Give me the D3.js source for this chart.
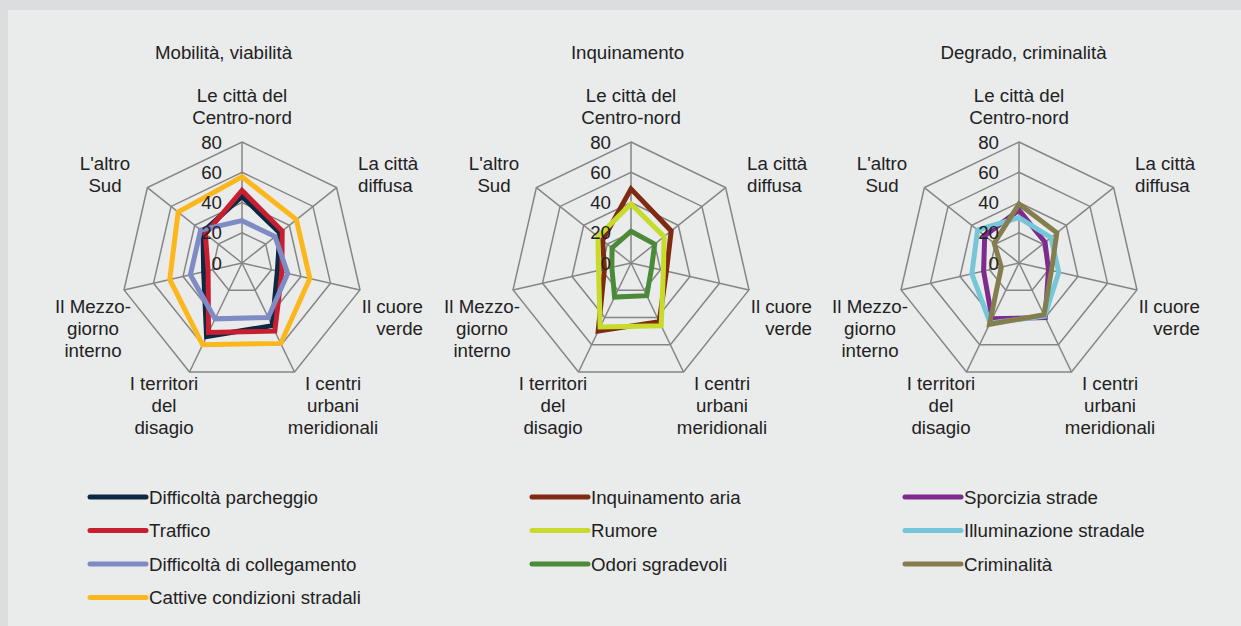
<!DOCTYPE html>
<html>
<head>
<meta charset="utf-8">
<script src="https://cdn.jsdelivr.net/npm/d3@7"></script>
<style>
  html, body { margin: 0; padding: 0; background: #dcdddf; }
  svg { display: block; }
  text { font-family: "Liberation Sans", Arial, sans-serif; fill: #222; }
</style>
</head>
<body>
<svg id="chart" width="1241" height="626"></svg>
<script>
// Territorial groups (radar axes, clockwise from the top)
const areas = [
  ["Le città del", "Centro-nord"],
  ["La città", "diffusa"],
  ["Il cuore", "verde"],
  ["I centri", "urbani", "meridionali"],
  ["I territori", "del", "disagio"],
  ["Il Mezzo-", "giorno", "interno"],
  ["L'altro", "Sud"]
];
const tickValues = [0, 20, 40, 60, 80];
const panelTitles = ["Mobilità, viabilità", "Inquinamento", "Degrado, criminalità"];

// Mobilità, viabilità
const difficoltaParcheggio = [44, 32, 24, 46, 54, 26, 33];
const traffico = [48, 34, 27, 50, 51, 23, 31];
const difficoltaCollegamento = [28, 28, 31, 40, 41, 35, 35];
const cattiveCondizioniStradali = [57, 46, 46, 59, 60, 49, 54];

// Inquinamento
const inquinamentoAria = [49, 34, 24, 43, 50, 18, 24];
const rumore = [39, 28, 22, 46, 47, 22, 28];
const odoriSgradevoli = [21, 20, 14, 24, 25, 13, 16];

// Degrado, criminalità
const sporciziaStrade = [35, 22, 20, 40, 41, 24, 29];
const illuminazioneStradale = [30, 27, 27, 39, 44, 32, 35];
const criminalita = [39, 32, 22, 38, 45, 12, 21];

const panels = [
  { title: panelTitles[0], cx: 242, titleX: 223.5, series: [
    { name: "Difficoltà parcheggio", color: "#0c2842", values: difficoltaParcheggio },
    { name: "Traffico", color: "#c71f30", values: traffico },
    { name: "Difficoltà di collegamento", color: "#7f8bc4", values: difficoltaCollegamento },
    { name: "Cattive condizioni stradali", color: "#fbb71c", values: cattiveCondizioniStradali }
  ]},
  { title: panelTitles[1], cx: 631, titleX: 627.5, series: [
    { name: "Inquinamento aria", color: "#7e2b12", values: inquinamentoAria },
    { name: "Rumore", color: "#c7db2b", values: rumore },
    { name: "Odori sgradevoli", color: "#4b8a38", values: odoriSgradevoli }
  ]},
  { title: panelTitles[2], cx: 1019, titleX: 1023.5, series: [
    { name: "Sporcizia strade", color: "#7e2a8e", values: sporciziaStrade },
    { name: "Illuminazione stradale", color: "#75c6d8", values: illuminazioneStradale },
    { name: "Criminalità", color: "#847d4e", values: criminalita }
  ]}
];

const W = 1241, H = 626;
const cy = 263;
const rMax = 121;
const fontSize = "18.7px";
const legendX = [90, 532, 905];
const legendY0 = 497, legendStep = 33.5;

// Axis label placement relative to each radar centre
const labelLayout = [
  { dx: 0,    dy: -168, anchor: "middle" },
  { dx: 116,  dy: -100, anchor: "start" },
  { dx: 181,  dy: 43,   anchor: "end" },
  { dx: 91,   dy: 120,  anchor: "middle" },
  { dx: -78,  dy: 120,  anchor: "middle" },
  { dx: -149, dy: 43,   anchor: "middle" },
  { dx: -137, dy: -100, anchor: "middle" }
];

const svg = d3.select("#chart");

// Outer frame and inner panel
svg.append("rect").attr("x", 0).attr("y", 0).attr("width", W).attr("height", H).attr("fill", "#dcdddf");
svg.append("rect").attr("x", 8).attr("y", 10).attr("width", W - 8).attr("height", H - 10).attr("fill", "#eaebeb");

const r = d3.scaleLinear().domain([0, 80]).range([0, rMax]);
const angle = d3.scaleLinear().domain([0, areas.length]).range([0, 2 * Math.PI]);

const radial = d3.lineRadial()
  .angle((d, i) => angle(i))
  .radius(d => r(d))
  .curve(d3.curveLinearClosed);

panels.forEach((p, pi) => {
  const g = svg.append("g").attr("transform", `translate(${p.cx},${cy})`);

  // Title
  svg.append("text")
    .attr("x", p.titleX).attr("y", 52)
    .attr("text-anchor", "middle").attr("dominant-baseline", "central")
    .style("font-size", fontSize)
    .text(p.title);

  // Grid rings
  tickValues.filter(t => t > 0).forEach(t => {
    g.append("path")
      .attr("d", radial(areas.map(() => t)))
      .attr("fill", "none").attr("stroke", "#858585").attr("stroke-width", 1.5);
  });

  // Spokes
  areas.forEach((a, i) => {
    const x = r(80) * Math.sin(angle(i)), y = -r(80) * Math.cos(angle(i));
    g.append("line").attr("x1", 0).attr("y1", 0).attr("x2", x).attr("y2", y)
      .attr("stroke", "#858585").attr("stroke-width", 1.5);
  });

  // Series polygons
  p.series.forEach(s => {
    g.append("path")
      .attr("d", radial(s.values))
      .attr("fill", "none").attr("stroke", s.color)
      .attr("stroke-width", 5).attr("stroke-linejoin", "miter");
  });

  // Tick labels
  tickValues.forEach(t => {
    g.append("text")
      .attr("x", -20).attr("y", -r(t))
      .attr("text-anchor", "end").attr("dominant-baseline", "central")
      .style("font-size", fontSize)
      .text(t);
  });

  // Axis category labels
  areas.forEach((lines, i) => {
    const L = labelLayout[i];
    const t = g.append("text")
      .attr("text-anchor", L.anchor)
      .style("font-size", fontSize);
    lines.forEach((line, li) => {
      t.append("tspan")
        .attr("x", L.dx).attr("y", L.dy + li * 22)
        .attr("dominant-baseline", "central")
        .text(line);
    });
  });

  // Legend
  p.series.forEach((s, si) => {
    const ly = legendY0 + si * legendStep;
    svg.append("line")
      .attr("x1", legendX[pi]).attr("x2", legendX[pi] + 56)
      .attr("y1", ly).attr("y2", ly)
      .attr("stroke", s.color).attr("stroke-width", 5).attr("stroke-linecap", "round");
    svg.append("text")
      .attr("x", legendX[pi] + 59).attr("y", ly)
      .attr("dominant-baseline", "central")
      .style("font-size", fontSize)
      .text(s.name);
  });
});
</script>
</body>
</html>
